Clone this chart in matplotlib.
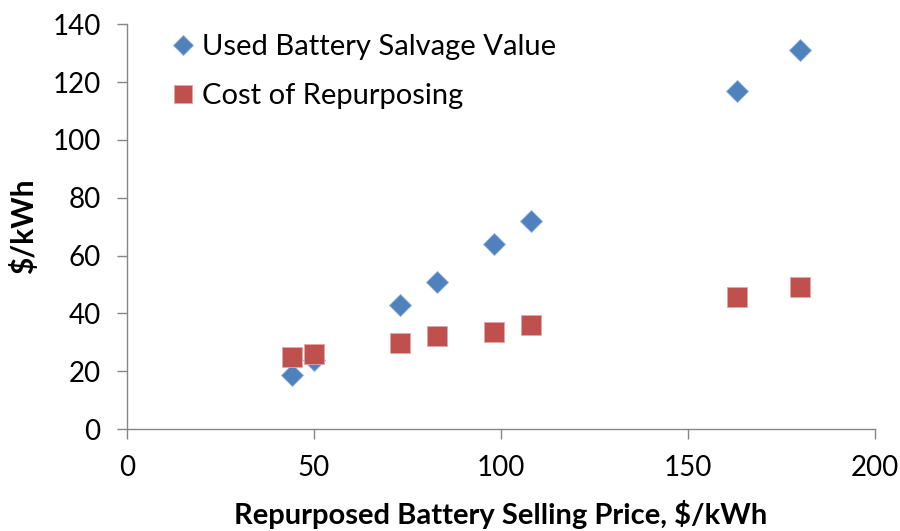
import matplotlib
matplotlib.use("Agg")
import matplotlib.pyplot as plt

# data
price = [44, 50, 73, 83, 98, 108, 163, 180]
salvage = [18.7, 24, 43, 51, 64, 72, 117, 131]
repurpose_cost = [25, 26, 29.6, 32, 33.7, 36, 45.8, 49]

x_ticks = [0, 50, 100, 150, 200]
y_ticks = [0, 20, 40, 60, 80, 100, 120, 140]

blue = "#4F81BD"
red = "#C0504D"
axis_grey = "#868686"

plt.rcParams["font.family"] = ["Lato", "DejaVu Sans"]

fig = plt.figure(figsize=(9, 5.31), dpi=100)
ax = fig.add_axes([127 / 900, 1 - 429 / 531, 748 / 900, 404.7 / 531])

ax.plot(price, salvage, linestyle="none", marker="D", markersize=11.5,
        color=blue, markeredgecolor="#8FB0D8", markeredgewidth=0.6,
        label="Used Battery Salvage Value", zorder=3)
ax.plot(price, repurpose_cost, linestyle="none", marker="s", markersize=15,
        color=red, markeredgecolor="#E0A8A6", markeredgewidth=0.6,
        label="Cost of Repurposing", zorder=4)

ax.set_xlim(0, 200)
ax.set_ylim(0, 140)
ax.set_xticks(x_ticks)
ax.set_yticks(y_ticks)

for side in ("top", "right"):
    ax.spines[side].set_visible(False)
for side in ("left", "bottom"):
    ax.spines[side].set_color(axis_grey)
    ax.spines[side].set_linewidth(1)

ax.tick_params(axis="both", direction="out", length=7, width=1,
               color=axis_grey, labelsize=20, labelcolor="black")
ax.tick_params(axis="y", pad=12)
ax.tick_params(axis="x", pad=12)

ax.set_ylabel("$/kWh", fontsize=21.5, fontweight="bold", va="center")
ax.yaxis.set_label_coords(-0.139, 0.5)
ax.set_xlabel("Repurposed Battery Selling Price, $/kWh", fontsize=21,
              fontweight="bold", va="center")
ax.xaxis.set_label_coords(0.5, -0.2125)

ax.legend(loc="upper left", bbox_to_anchor=(0.047, 1.005), frameon=False,
          numpoints=1, markerscale=0.85, fontsize=21, handlelength=0.6,
          handletextpad=0.35, labelspacing=0.8, borderaxespad=0.0)

fig.savefig("out.png", dpi=100)
